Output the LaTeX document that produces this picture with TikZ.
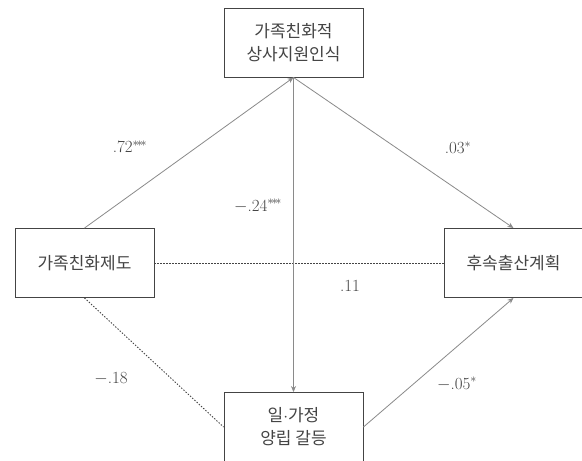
\documentclass[tikz,border=0pt]{standalone}
\usepackage{fontspec}
\newfontfamily\kr{Noto Sans CJK KR}
\usetikzlibrary{arrows.meta}
\definecolor{boxline}{HTML}{444444}
\definecolor{conn}{HTML}{8A8A8A}
\definecolor{txt}{HTML}{444444}
\tikzset{
  varbox/.style={draw=boxline, line width=0.9pt, fill=white, minimum width=139pt, minimum height=69pt, align=center, inner sep=0pt, font=\kr\fontsize{17}{23}\selectfont, text=txt},
  path/.style={draw=conn, line width=0.8pt},
  arr/.style={path, -{Stealth[length=6pt,width=5pt]}},
  dotline/.style={draw=boxline, line width=0.9pt, dash pattern=on 1.4pt off 1.6pt},
  coef/.style={font=\fontsize{17}{20}\selectfont, text=txt, inner sep=0pt},
}
\begin{document}
\begin{tikzpicture}[x=1pt,y=-1pt]
\useasboundingbox (0,0) rectangle (582,461);
\clip (0,0) rectangle (582,461);
\fill[white] (0,0) rectangle (582,461);
\node[varbox] (T) at (293.5,42.5) {가족친화적\\상사지원인식};
\node[varbox] (L) at (84.5,263) {가족친화제도};
\node[varbox] (R) at (513.5,263) {후속출산계획};
\node[varbox] (B) at (293.5,427) {일$\cdot$가정\\양립 갈등};
\draw[dotline] (L.east) -- (R.west);
\draw[dotline] (L.south) -- (B.west);
\draw[arr] (L.north) -- (T.south);
\draw[arr] (T.south) -- (R.north);
\draw[arr] (T.south) -- (B.north);
\draw[arr] (B.east) -- (R.south);
\node[coef] (c1) at (130,147) {.72$^{\scriptstyle *\!*\!*}$};
\node[coef] (c2) at (258,206) {$-$.24$^{\scriptstyle *\!*\!*}$};
\node[coef] (c3) at (458,148) {.03$^{\scriptstyle *}$};
\node[coef] (c4) at (350,286) {.11};
\node[coef] (c5) at (111,379) {$-$.18};
\node[coef] (c6) at (457,384) {$-$.05$^{\scriptstyle *}$};
\end{tikzpicture}
\end{document}
